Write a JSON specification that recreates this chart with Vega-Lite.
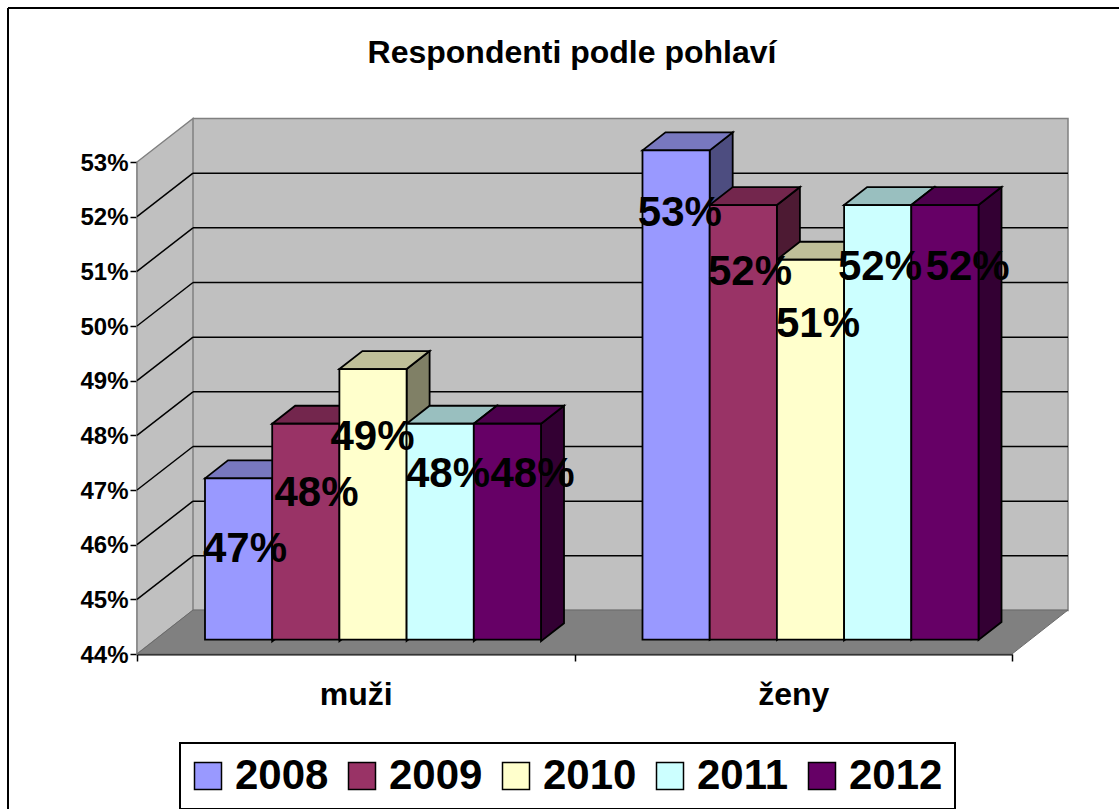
{
"$schema":"https://vega.github.io/schema/vega-lite/v6.json",
"width":875,"height":492,
"autosize":{"type":"none"},
"padding":{"left":137,"top":162,"right":107,"bottom":155},
"background":"white",
"config":{"view":{"stroke":null},"font":"Liberation Sans","numberFormat":".0%","legend":{"strokeWidth":2},"text":{"font":"Liberation Sans","fontSize":42,"fontWeight":"bold","color":"black"},
 "axisX":{"labelAngle":0,"labelFont":"Liberation Sans","labelFontSize":32,"labelFontWeight":"bold","labelColor":"black","labelPadding":18,"tickBand":"extent","tickSize":7,"tickColor":"black","tickWidth":1.5,"domainColor":"black","domainWidth":2,"zindex":1,"grid":false},
 "axisY":{"tickCount":10,"grid":false,"labelFont":"Liberation Sans","labelFontSize":24,"labelFontWeight":"bold","labelColor":"black","labelPadding":2,"labelOffset":1,"tickSize":7,"tickColor":"black","tickWidth":1.5,"domainColor":"black","domainWidth":1.5,"zindex":1}},
"title":{"text":"Respondenti podle pohlaví","font":"Liberation Sans","fontSize":32,"fontWeight":"bold","color":"black","anchor":"middle","frame":"group","offset":-63,"dx":-2.5},
"data":{"values":[
{"pohlavi":"muži","rok":"2008","podil":0.47},
{"pohlavi":"muži","rok":"2009","podil":0.48},
{"pohlavi":"muži","rok":"2010","podil":0.49},
{"pohlavi":"muži","rok":"2011","podil":0.48},
{"pohlavi":"muži","rok":"2012","podil":0.48},
{"pohlavi":"ženy","rok":"2008","podil":0.53},
{"pohlavi":"ženy","rok":"2009","podil":0.52},
{"pohlavi":"ženy","rok":"2010","podil":0.51},
{"pohlavi":"ženy","rok":"2011","podil":0.52},
{"pohlavi":"ženy","rok":"2012","podil":0.52}
]},
"layer":[
{"data":{"values":[{}]},"mark":{"type":"rule","stroke":"black","strokeWidth":2},"encoding":{"x":{"value":-129},"x2":{"value":1200},"y":{"value":-154}}},
{"data":{"values":[{}]},"mark":{"type":"rule","stroke":"black","strokeWidth":2},"encoding":{"x":{"value":-129},"y":{"value":-154},"y2":{"value":800}}},
{"data":{"values":[{}]},"mark":{"type":"point","filled":true,"opacity":1,"size":4,"x":0,"y":492,"fill":"#C0C0C0","stroke":"#808080","strokeWidth":1.5,"shape":"M0,0L56,-43.5L56,-535.5L0,-492ZM56,-43.5L931,-43.5L931,-535.5L56,-535.5Z"},"encoding":{}},
{"data":{"values":[{"t":0.45},{"t":0.46},{"t":0.47},{"t":0.48},{"t":0.49},{"t":0.50},{"t":0.51},{"t":0.52}]},
 "mark":{"type":"rule","x":56,"x2":931,"yOffset":-43.5,"stroke":"black","strokeWidth":1.5},
 "encoding":{"y":{"field":"t","type":"quantitative","title":null,"scale":{"domain":[0.44,0.53],"nice":false,"zero":false}}}},
{"data":{"values":[{"t":0.45},{"t":0.46},{"t":0.47},{"t":0.48},{"t":0.49},{"t":0.50},{"t":0.51},{"t":0.52}]},
 "mark":{"type":"point","size":4,"x":0,"opacity":1,"filled":false,"stroke":"black","strokeWidth":1.5,"shape":"M0,0L56,-43.5"},
 "encoding":{"y":{"field":"t","type":"quantitative","title":null}}},
{"data":{"values":[{}]},"mark":{"type":"point","filled":true,"opacity":1,"size":4,"x":0,"y":492,"fill":"#808080","stroke":"#6a6a6a","strokeWidth":1,"shape":"M0,0L56,-44L931,-44L875,0Z"},"encoding":{}},
{"encoding":{
  "x":{"field":"pohlavi","type":"nominal","title":null,"sort":["muži","ženy"],"scale":{"paddingInner":0,"paddingOuter":0}},
  "xOffset":{"field":"rok","type":"nominal","scale":{"paddingInner":0,"paddingOuter":0.755,"align":0.67}},
  "y":{"field":"podil","type":"quantitative","title":null}
 },
 "resolve":{"scale":{"color":"independent"}},
 "layer":[
{"transform":[{"calculate":"'M33.6,0L56.6,-18L56.6,'+format((datum.podil-0.44)/0.09*489.3-18,'.1f')+'L33.6,'+format((datum.podil-0.44)/0.09*489.3,'.1f')+'Z'","as":"bok"}],
 "mark":{"type":"point","filled":true,"opacity":1,"size":4,"yOffset":-11.6,"stroke":"black","strokeWidth":1.8},
 "encoding":{
  "shape":{"field":"bok","type":"nominal","scale":null,"legend":null},
  "color":{"field":"rok","type":"nominal","legend":null,"scale":{"domain":["2008","2009","2010","2011","2012"],"range":["#4D4D80","#4D1A33","#808066","#668080","#330033"]}}
 }},
{"mark":{"type":"point","filled":true,"opacity":1,"size":4,"yOffset":-11.6,"stroke":"black","strokeWidth":1.8,"shape":"M-33.6,0L-10.6,-18L56.6,-18L33.6,0Z"},
 "encoding":{
  "color":{"field":"rok","type":"nominal","legend":null,"scale":{"domain":["2008","2009","2010","2011","2012"],"range":["#7878BF","#73264D","#BFBF99","#99BFBF","#4D004D"]}}
 }},
{"mark":{"type":"bar","yOffset":-11.6,"y2Offset":-14.3,"stroke":"black","strokeWidth":1.8,"opacity":1},
 "encoding":{
  "y":{"field":"podil","type":"quantitative","title":null,"stack":null},
  "y2":{"datum":0.44},
  "color":{"field":"rok","type":"nominal","scale":{"domain":["2008","2009","2010","2011","2012"],"range":["#9999FF","#993366","#FFFFCC","#CCFFFF","#660066"]},
   "legend":{"title":null,"orient":"none","legendX":43,"legendY":581,"direction":"horizontal","columns":5,"symbolType":"square","symbolSize":729,"symbolStrokeColor":"black","symbolStrokeWidth":1.5,"symbolOpacity":1,"symbolOffset":-5,"labelFont":"Liberation Sans","labelFontSize":42,"labelFontWeight":"bold","labelColor":"black","labelOffset":6,"columnPadding":16,"padding":12,"strokeColor":"black","fillColor":"white","labelLimit":200}}
 }},
{"transform":[{"filter":"datum.pohlavi=='muži'&&datum.rok=='2008'"}],"mark":{"type":"text","dx":6.4,"dy":59},"encoding":{"text":{"field":"podil","format":".0%"}}},
{"transform":[{"filter":"datum.pohlavi=='muži'&&datum.rok=='2009'"}],"mark":{"type":"text","dx":10.75,"dy":57.5},"encoding":{"text":{"field":"podil","format":".0%"}}},
{"transform":[{"filter":"datum.pohlavi=='muži'&&datum.rok=='2010'"}],"mark":{"type":"text","dx":-0.5,"dy":56.5},"encoding":{"text":{"field":"podil","format":".0%"}}},
{"transform":[{"filter":"datum.pohlavi=='muži'&&datum.rok=='2011'"}],"mark":{"type":"text","dx":7.75,"dy":38.5},"encoding":{"text":{"field":"podil","format":".0%"}}},
{"transform":[{"filter":"datum.pohlavi=='muži'&&datum.rok=='2012'"}],"mark":{"type":"text","dx":25.1,"dy":38.5},"encoding":{"text":{"field":"podil","format":".0%"}}},
{"transform":[{"filter":"datum.pohlavi=='ženy'&&datum.rok=='2008'"}],"mark":{"type":"text","dx":3.75,"dy":51},"encoding":{"text":{"field":"podil","format":".0%"}}},
{"transform":[{"filter":"datum.pohlavi=='ženy'&&datum.rok=='2009'"}],"mark":{"type":"text","dx":6.75,"dy":55.5},"encoding":{"text":{"field":"podil","format":".0%"}}},
{"transform":[{"filter":"datum.pohlavi=='ženy'&&datum.rok=='2010'"}],"mark":{"type":"text","dx":7.5,"dy":52.5},"encoding":{"text":{"field":"podil","format":".0%"}}},
{"transform":[{"filter":"datum.pohlavi=='ženy'&&datum.rok=='2011'"}],"mark":{"type":"text","dx":2.25,"dy":50},"encoding":{"text":{"field":"podil","format":".0%"}}},
{"transform":[{"filter":"datum.pohlavi=='ženy'&&datum.rok=='2012'"}],"mark":{"type":"text","dx":22.75,"dy":50},"encoding":{"text":{"field":"podil","format":".0%"}}}
 ]}
]
}
